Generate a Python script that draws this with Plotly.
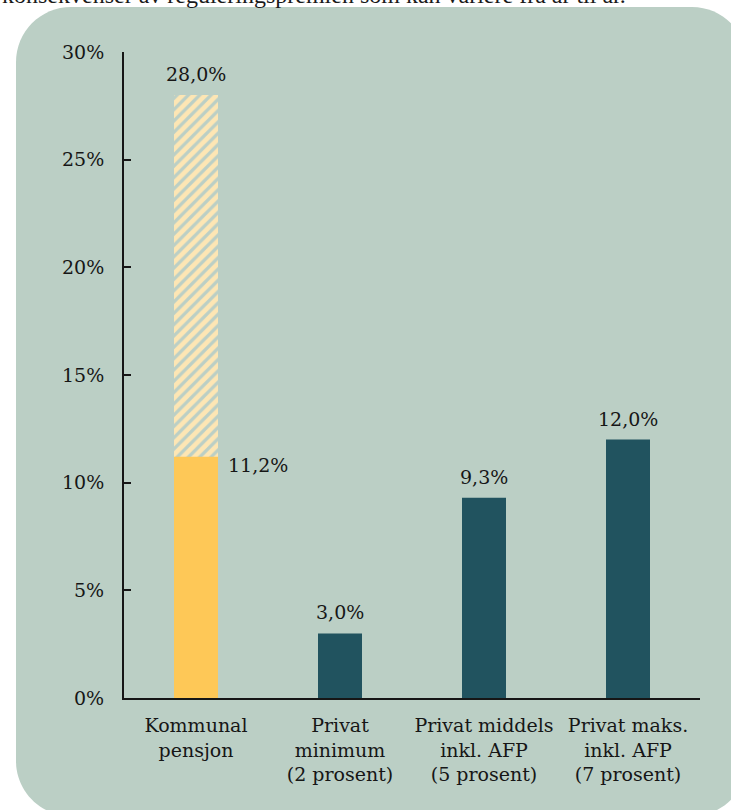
import plotly.graph_objects as go

# Kategorier og verdier (prosent av lønn)
categories = [
    "Kommunal<br>pensjon",
    "Privat<br>minimum<br>(2 prosent)",
    "Privat middels<br>inkl. AFP<br>(5 prosent)",
    "Privat maks.<br>inkl. AFP<br>(7 prosent)",
]
base_values = [11.2, 3.0, 9.3, 12.0]
kommunal_incl_regulering = 28.0
y_ticks = [0, 5, 10, 15, 20, 25, 30]
y_tick_labels = ["0%", "5%", "10%", "15%", "20%", "25%", "30%"]
intro_text = "konsekvenser av reguleringspremien som kan variere fra år til år."

YELLOW = "#FEC857"
HATCH = "#FDE6B4"
TEAL = "#21535F"
PANEL = "#BBCFC5"
INK = "#161616"
FONT = "DejaVu Serif, Georgia, serif"

W, H = 731, 810
ML, MR, MT, MB = 124, 31, 52, 112
PW, PH = W - ML - MR, H - MT - MB
BAR_W = 0.3056


def fmt(v):
    return f"{v:.1f}".replace(".", ",") + "%"


def fx(px):
    return (px - ML) / PW


def fy(py):
    return (H - MB - py) / PH


def rounded_panel(x0, y0, x1, y1, r):
    k = 0.5523 * r
    pts = [
        ("M", [(x0 + r, y0)]),
        ("L", [(x1 - r, y0)]),
        ("C", [(x1 - r + k, y0), (x1, y0 + r - k), (x1, y0 + r)]),
        ("L", [(x1, y1 - r)]),
        ("C", [(x1, y1 - r + k), (x1 - r + k, y1), (x1 - r, y1)]),
        ("L", [(x0 + r, y1)]),
        ("C", [(x0 + r - k, y1), (x0, y1 - r + k), (x0, y1 - r)]),
        ("L", [(x0, y0 + r)]),
        ("C", [(x0, y0 + r - k), (x0 + r - k, y0), (x0 + r, y0)]),
    ]
    parts = []
    for cmd, coords in pts:
        parts.append(cmd + " " + " ".join(f"{fx(a):.5f},{fy(b):.5f}" for a, b in coords))
    return " ".join(parts) + " Z"


fig = go.Figure()

# Kommunal pensjon inkludert reguleringspremie (skravert)
fig.add_trace(go.Bar(
    x=[categories[0]],
    y=[kommunal_incl_regulering],
    width=BAR_W,
    marker=dict(
        color=HATCH,
        line=dict(width=0),
        pattern=dict(shape="/", fgcolor=HATCH, bgcolor="rgba(0,0,0,0)",
                     size=8, solidity=0.6, fillmode="replace"),
    ),
    hoverinfo="skip",
))

# Grunnsatser
fig.add_trace(go.Bar(
    x=categories,
    y=base_values,
    width=BAR_W,
    marker=dict(color=[YELLOW, TEAL, TEAL, TEAL], line=dict(width=0)),
    hoverinfo="skip",
))

annotations = []
# Etikett over skravert søyle
annotations.append(dict(
    x=categories[0], y=kommunal_incl_regulering, xref="x", yref="y",
    text=fmt(kommunal_incl_regulering), showarrow=False,
    xanchor="center", yanchor="bottom", yshift=8,
    font=dict(family=FONT, size=19, color=INK),
))
# Etikett til høyre for kommunal grunnsats
annotations.append(dict(
    x=categories[0], y=base_values[0], xref="x", yref="y",
    text=fmt(base_values[0]), showarrow=False,
    xanchor="left", yanchor="top", xshift=30, yshift=5,
    font=dict(family=FONT, size=19, color=INK),
))
for cat, v in zip(categories[1:], base_values[1:]):
    annotations.append(dict(
        x=cat, y=v, xref="x", yref="y",
        text=fmt(v), showarrow=False,
        xanchor="center", yanchor="bottom", yshift=8,
        font=dict(family=FONT, size=19, color=INK),
    ))
# Innledende tekst over figuren
annotations.append(dict(
    x=fx(0), y=fy(-5), xref="paper", yref="paper",
    text=intro_text, showarrow=False,
    xanchor="left", yanchor="middle",
    font=dict(family="Liberation Serif, Times New Roman, serif", size=24, color="#1a1a1a"),
))

fig.update_layout(
    width=W, height=H,
    margin=dict(l=ML, r=MR, t=MT, b=MB, pad=0),
    paper_bgcolor="white",
    plot_bgcolor="rgba(0,0,0,0)",
    barmode="overlay",
    showlegend=False,
    font=dict(family=FONT, size=19, color=INK),
    annotations=annotations,
    shapes=[dict(
        type="path", xref="paper", yref="paper", layer="below",
        path=rounded_panel(16, 7, 747, 816, 55),
        fillcolor=PANEL, line=dict(width=0),
    )],
    xaxis=dict(
        type="category",
        categoryorder="array", categoryarray=categories,
        range=[-0.5, 3.5],
        showgrid=False, zeroline=False,
        showline=True, linecolor=INK, linewidth=2,
        ticks="", ticklabelstandoff=9,
        tickfont=dict(family=FONT, size=19, color=INK),
        fixedrange=True,
    ),
    yaxis=dict(
        range=[0, 30],
        tickvals=y_ticks, ticktext=y_tick_labels,
        showgrid=False, zeroline=False,
        showline=True, linecolor=INK, linewidth=2,
        ticks="inside", ticklen=7, tickwidth=2, tickcolor=INK,
        ticklabelstandoff=14,
        tickfont=dict(family=FONT, size=19, color=INK),
        fixedrange=True,
    ),
)

fig.write_html("out.html", config={"displayModeBar": False})
